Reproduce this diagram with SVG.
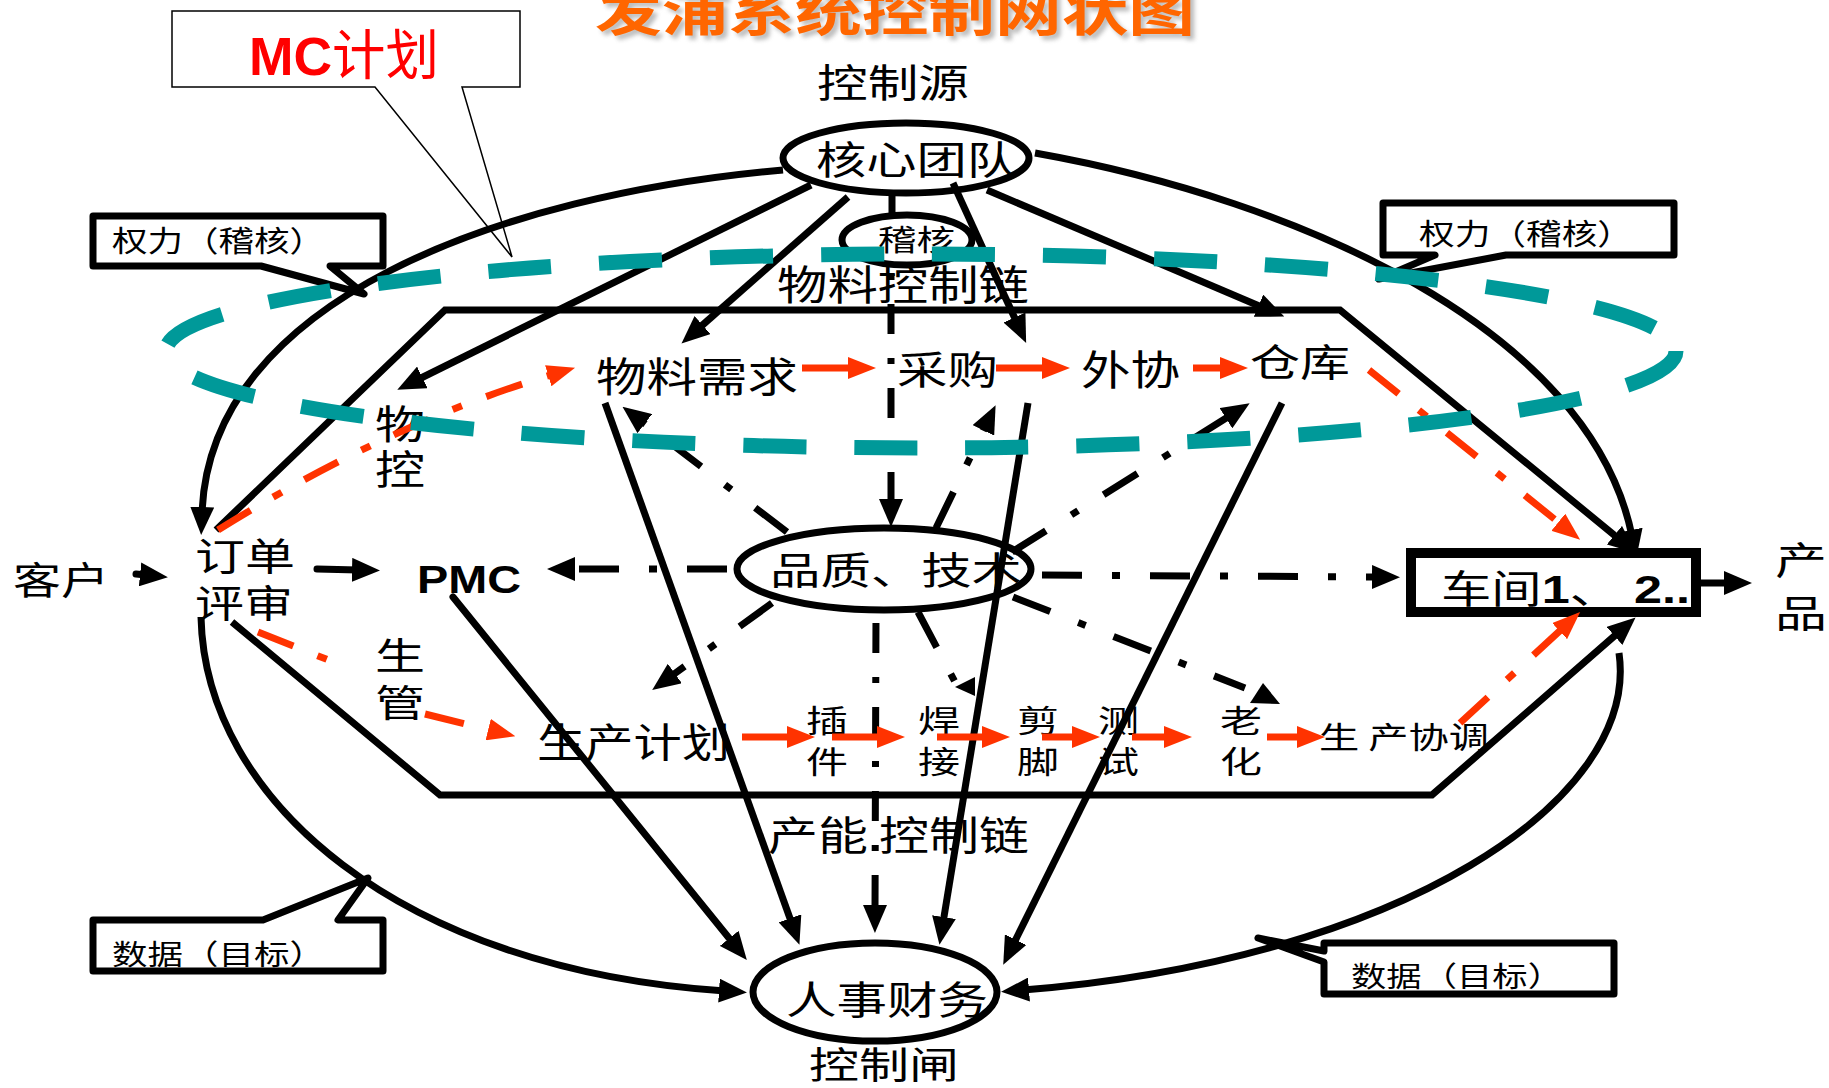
<svg xmlns="http://www.w3.org/2000/svg" width="1829" height="1088" viewBox="0 0 1829 1088">
<style>
 text{font-family:"Noto Sans CJK SC","Noto Sans",sans-serif}
 .lat{font-family:"Liberation Sans","Noto Sans CJK SC",sans-serif}
 .s{fill:none;stroke:#000;stroke-width:7}
 .dd{fill:none;stroke:#000;stroke-width:7;stroke-dasharray:40 30 8 30}
 .dv{fill:none;stroke:#000;stroke-width:7;stroke-dasharray:30 24 6 24}
 .r{fill:none;stroke:#FF3300;stroke-width:7}
 .rd{fill:none;stroke:#FF3300;stroke-width:7;stroke-dasharray:38 26 10 26}
 .box{fill:#fff;stroke:#000;stroke-width:7;stroke-linejoin:round}
 .node{fill:#fff;stroke:#000;stroke-width:7}
 .teal{fill:none;stroke:#009999;stroke-width:15;stroke-dasharray:63 48}
</style>
<defs>
 <marker id="ah" markerUnits="userSpaceOnUse" markerWidth="28" markerHeight="24" viewBox="0 0 28 24" refX="6" refY="12" orient="auto"><path d="M0,0 L28,12 L0,24 z" fill="#000"/></marker>
 <marker id="rh" markerUnits="userSpaceOnUse" markerWidth="28" markerHeight="22" viewBox="0 0 28 22" refX="6" refY="11" orient="auto"><path d="M0,0 L28,11 L0,22 z" fill="#FF3300"/></marker>
 <filter id="sh" x="-5%" y="-50%" width="110%" height="200%"><feGaussianBlur stdDeviation="2"/></filter>
</defs>
<rect width="1829" height="1088" fill="#fff"/>

<g id="title">
 <text x="599" y="35" font-size="52" font-weight="bold" fill="#888" opacity="0.55" filter="url(#sh)" textLength="600" lengthAdjust="spacingAndGlyphs">发浦系统控制网状图</text>
 <text x="595" y="31" font-size="52" font-weight="bold" fill="#FF6600" textLength="600" lengthAdjust="spacingAndGlyphs">发浦系统控制网状图</text>
</g>

<g id="callout-mc">
 <path d="M172,11 H520 V87 H462 L512,257 L375,87 H172 Z" fill="#fff" stroke="#000" stroke-width="1.5"/>
 <text x="249" y="75" class="lat" font-size="54" font-weight="bold" fill="#FF0000" textLength="190" lengthAdjust="spacingAndGlyphs">MC<tspan font-weight="normal">计划</tspan></text>
</g>

<g id="label-source"><text x="817" y="97" font-size="39" textLength="152" lengthAdjust="spacingAndGlyphs">控制源</text></g>
<g id="node-core">
 <ellipse class="node" cx="906" cy="158" rx="123" ry="35"/>
 <text x="816" y="174" font-size="39" textLength="201" lengthAdjust="spacingAndGlyphs">核心团队</text>
</g>
<g id="node-audit">
 <ellipse class="node" cx="907" cy="240" rx="65" ry="25" stroke-width="6"/>
 <text x="878" y="251" font-size="29" textLength="77" lengthAdjust="spacingAndGlyphs">稽核</text>
</g>
<g id="label-material-chain"><text x="777" y="300" font-size="41" textLength="252" lengthAdjust="spacingAndGlyphs">物料控制链</text></g>
<g id="node-material-demand"><text x="596" y="392" font-size="41" textLength="202" lengthAdjust="spacingAndGlyphs">物料需求</text></g>
<g id="node-purchase"><text x="897" y="384" font-size="39" textLength="101" lengthAdjust="spacingAndGlyphs">采购</text></g>
<g id="node-outsource"><text x="1081" y="385" font-size="41" textLength="99" lengthAdjust="spacingAndGlyphs">外协</text></g>
<g id="node-warehouse"><text x="1250" y="376" font-size="38" textLength="100" lengthAdjust="spacingAndGlyphs">仓库</text></g>
<g id="node-material-control">
 <text x="375" y="439" font-size="40" textLength="50" lengthAdjust="spacingAndGlyphs">物</text>
 <text x="375" y="484" font-size="40" textLength="50" lengthAdjust="spacingAndGlyphs">控</text>
</g>
<g id="node-customer"><text x="13" y="594" font-size="38" textLength="96" lengthAdjust="spacingAndGlyphs">客户</text></g>
<g id="node-order-review">
 <text x="195" y="570" font-size="38" textLength="100" lengthAdjust="spacingAndGlyphs">订单</text>
 <text x="195" y="617" font-size="38" textLength="98" lengthAdjust="spacingAndGlyphs">评审</text>
</g>
<g id="node-pmc"><text x="417" y="593" class="lat" font-size="39" font-weight="bold" textLength="104" lengthAdjust="spacingAndGlyphs">PMC</text></g>
<g id="node-quality">
 <ellipse class="node" cx="884" cy="569" rx="147" ry="41"/>
 <text x="770" y="584" font-size="38" textLength="252" lengthAdjust="spacingAndGlyphs">品质、技术</text>
</g>
<g id="node-workshop">
 <rect x="1411" y="553" width="285" height="59" fill="#fff" stroke="#000" stroke-width="10"/>
 <text x="1441" y="603" class="lat" font-size="39" textLength="249" lengthAdjust="spacingAndGlyphs">车间<tspan font-weight="bold">1</tspan>、 <tspan font-weight="bold">2..</tspan></text>
</g>
<g id="node-product">
 <text x="1775" y="574" font-size="38" textLength="52" lengthAdjust="spacingAndGlyphs">产</text>
 <text x="1775" y="627" font-size="38" textLength="52" lengthAdjust="spacingAndGlyphs">品</text>
</g>
<g id="node-production-control">
 <text x="375" y="670" font-size="37" textLength="50" lengthAdjust="spacingAndGlyphs">生</text>
 <text x="375" y="717" font-size="37" textLength="50" lengthAdjust="spacingAndGlyphs">管</text>
</g>
<g id="node-production-plan"><text x="537" y="757" font-size="40" textLength="193" lengthAdjust="spacingAndGlyphs">生产计划</text></g>
<g id="node-insert"><text x="806" y="732" font-size="31" textLength="42" lengthAdjust="spacingAndGlyphs">插</text><text x="806" y="773" font-size="31" textLength="42" lengthAdjust="spacingAndGlyphs">件</text></g>
<g id="node-weld"><text x="918" y="732" font-size="31" textLength="42" lengthAdjust="spacingAndGlyphs">焊</text><text x="918" y="773" font-size="31" textLength="42" lengthAdjust="spacingAndGlyphs">接</text></g>
<g id="node-trim"><text x="1017" y="732" font-size="31" textLength="42" lengthAdjust="spacingAndGlyphs">剪</text><text x="1017" y="773" font-size="31" textLength="42" lengthAdjust="spacingAndGlyphs">脚</text></g>
<g id="node-test"><text x="1098" y="732" font-size="31" textLength="41" lengthAdjust="spacingAndGlyphs">测</text><text x="1098" y="773" font-size="31" textLength="41" lengthAdjust="spacingAndGlyphs">试</text></g>
<g id="node-aging"><text x="1220" y="732" font-size="31" textLength="42" lengthAdjust="spacingAndGlyphs">老</text><text x="1220" y="773" font-size="31" textLength="42" lengthAdjust="spacingAndGlyphs">化</text></g>
<g id="node-coordination"><text x="1319" y="748" font-size="30" textLength="170" lengthAdjust="spacingAndGlyphs">生 产协调</text></g>
<g id="label-capacity-chain"><text x="768" y="850" font-size="40" textLength="261" lengthAdjust="spacingAndGlyphs">产能 控制链</text></g>
<g id="node-hr-finance">
 <ellipse class="node" cx="875" cy="992" rx="122" ry="49"/>
 <text x="786" y="1014" font-size="39" textLength="202" lengthAdjust="spacingAndGlyphs">人事财务</text>
</g>
<g id="label-gate"><text x="809" y="1079" font-size="37" textLength="150" lengthAdjust="spacingAndGlyphs">控制闸</text></g>

<g id="connectors">
 <!-- outer loop -->
 <path class="s" d="M783,170 C500,195 210,300 202,513" marker-end="url(#ah)"/>
 <path class="s" d="M1035,153 C1300,200 1590,330 1632,536" marker-end="url(#ah)"/>
 <path class="s" d="M201,617 C205,800 400,970 725,991" marker-end="url(#ah)"/>
 <path class="s" d="M1619,653 C1640,800 1400,960 1023,990" marker-end="url(#ah)"/>
 <!-- chain frame -->
 <path class="s" d="M216,530 L445,310 L1340,310 L1619,539" marker-end="url(#ah)"/>
 <path class="s" d="M232,622 L440,795 L1432,795 L1619,632" marker-end="url(#ah)"/>
 <!-- from core team -->
 <path class="s" d="M811,185 L417,380" marker-end="url(#ah)"/>
 <path class="s" d="M848,197 L698,329" marker-end="url(#ah)"/>
 <path class="s" d="M953,183 L1017,323" marker-end="url(#ah)"/>
 <path class="s" d="M987,190 L1264,308" marker-end="url(#ah)"/>
 <path class="s" d="M892,193 L892,215"/>
 <path class="dv" d="M891,266 L891,505" stroke-dashoffset="46" marker-end="url(#ah)"/>
 <!-- order flow -->
 <path class="s" d="M136,574 L146,575" stroke-linecap="round" marker-end="url(#ah)"/>
 <path class="s" d="M317,569 L358,570" stroke-linecap="round" marker-end="url(#ah)"/>
 <!-- to HR finance -->
 <path class="s" d="M453,597 L733,943" stroke-linecap="round" marker-end="url(#ah)"/>
 <path class="s" d="M605,403 L792,924" marker-end="url(#ah)"/>
 <path class="s" d="M1028,403 L943,923" marker-end="url(#ah)"/>
 <path class="s" d="M1282,403 L1013,945" marker-end="url(#ah)"/>
 <path class="dv" d="M876,614 L875,911" stroke-dashoffset="75" marker-end="url(#ah)"/>
 <!-- workshop to product -->
 <path class="s" d="M1691,583 L1730,583" marker-end="url(#ah)"/>
 <!-- from quality/tech -->
 <path class="dd" d="M727,569 L569,569" marker-end="url(#ah)"/>
 <path class="dd" d="M1042,575 L1378,577" marker-end="url(#ah)"/>
 <path class="dd" d="M787,532 L640,420" marker-end="url(#ah)"/>
 <path class="dd" d="M936,528 L986,425" marker-end="url(#ah)"/>
 <path class="dd" d="M1012,552 L1231,415" marker-end="url(#ah)"/>
 <path class="dd" d="M1013,597 L1245,688"/>
 <polygon points="1250,703 1263,683 1280,704" fill="#000"/>
 <path class="dd" d="M918,612 L955,682"/>
 <polygon points="955,687 975,677 975,696" fill="#000"/>
 <path class="dd" d="M772,603 L670,677" marker-end="url(#ah)"/>
 <!-- red material flow -->
 <path class="rd" d="M218,530 Q390,423 554,374" marker-end="url(#rh)"/>
 <path class="r" d="M802,368 L854,368" marker-end="url(#rh)"/>
 <path class="r" d="M996,368 L1048,368" marker-end="url(#rh)"/>
 <path class="r" d="M1193,368 L1226,368" marker-end="url(#rh)"/>
 <path class="rd" d="M1369,370 L1563,526" marker-end="url(#rh)"/>
 <!-- red production flow -->
 <path class="rd" d="M258,632 L336,663"/>
 <path class="r" d="M425,714 L494,731" stroke-dasharray="40 100" marker-end="url(#rh)"/>
 <path class="r" d="M742,737 L793,737" marker-end="url(#rh)"/>
 <path class="r" d="M832,737 L883,737" marker-end="url(#rh)"/>
 <path class="r" d="M937,737 L988,737" marker-end="url(#rh)"/>
 <path class="r" d="M1042,737 L1078,737" marker-end="url(#rh)"/>
 <path class="r" d="M1132,737 L1170,737" marker-end="url(#rh)"/>
 <path class="r" d="M1267,737 L1303,737" marker-end="url(#rh)"/>
 <path class="rd" d="M1460,723 L1564,627" marker-end="url(#rh)"/>
</g>

<g id="callout-power-left">
 <path class="box" d="M93,216 H383 V266 H330 L364,294 L261,266 H93 Z"/>
 <text x="112" y="252" font-size="29" textLength="213" lengthAdjust="spacingAndGlyphs">权力（稽核）</text>
</g>
<g id="callout-power-right">
 <path class="box" d="M1383,203 H1674 V255 H1506 L1379,279 L1435,255 H1383 Z"/>
 <text x="1419" y="245" font-size="29" textLength="214" lengthAdjust="spacingAndGlyphs">权力（稽核）</text>
</g>
<g id="callout-data-left">
 <path class="box" d="M93,920 H263 L368,878 L338,920 H383 V971 H93 Z"/>
 <text x="112" y="965" font-size="28" textLength="213" lengthAdjust="spacingAndGlyphs">数据（目标）</text>
</g>
<g id="callout-data-right">
 <path class="box" d="M1324,943 H1614 V994 H1324 V962 L1258,938 L1324,951 Z"/>
 <text x="1351" y="987" font-size="28" textLength="212" lengthAdjust="spacingAndGlyphs">数据（目标）</text>
</g>

<g id="power-ring">
 <ellipse class="teal" cx="921" cy="351" rx="755" ry="97"/>
</g>
</svg>
